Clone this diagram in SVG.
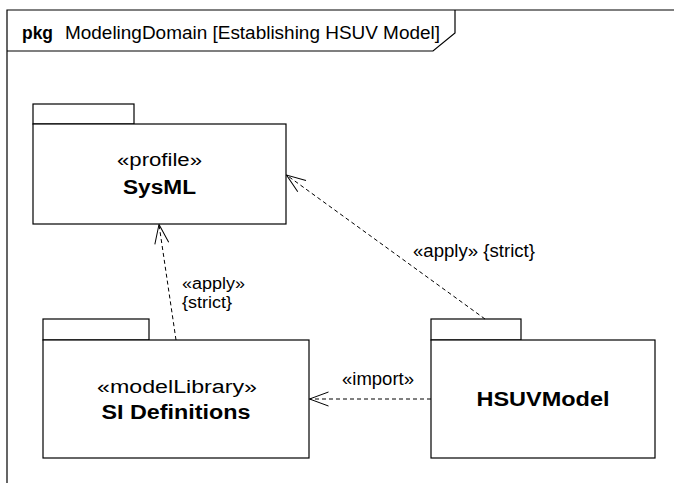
<svg xmlns="http://www.w3.org/2000/svg" width="674" height="483" viewBox="0 0 674 483">
<style>
text{font-family:"Liberation Sans",Arial,sans-serif;fill:#000}
.b{font-weight:bold}
.pk{fill:#fff;stroke:#000;stroke-width:1.2}
.dep{fill:none;stroke:#000;stroke-width:1;stroke-dasharray:4 3;marker-end:url(#open)}
.frame{fill:none;stroke:#000;stroke-width:1.2}
</style>
<defs>
<marker id="open" markerUnits="userSpaceOnUse" viewBox="-21 -8 22 16" markerWidth="22" markerHeight="16" refX="0" refY="0" orient="auto">
<path d="M-19,-7 L0,0 L-19,7" fill="none" stroke="#000" stroke-width="1"/>
</marker>
</defs>
<rect width="674" height="483" fill="#fff"/>
<g id="frame">
<path class="frame" d="M7,490 V10 H680"/>
<path class="frame" d="M7,51 H433 L455,33 V10"/>
<text x="22" y="39" font-size="17.5" class="b" textLength="31" lengthAdjust="spacingAndGlyphs">pkg</text>
<text x="65" y="39" font-size="17.5" textLength="375" lengthAdjust="spacingAndGlyphs">ModelingDomain [Establishing HSUV Model]</text>
</g>
<g id="SysML">
<rect class="pk" x="33" y="104" width="101" height="20"/>
<rect class="pk" x="33" y="124" width="253" height="100"/>
<text x="159.5" y="166" font-size="18" text-anchor="middle" textLength="85" lengthAdjust="spacingAndGlyphs">«profile»</text>
<text x="159.5" y="194" font-size="20" class="b" text-anchor="middle" textLength="73" lengthAdjust="spacingAndGlyphs">SysML</text>
</g>
<g id="SIDefinitions">
<rect class="pk" x="43" y="319" width="106" height="21"/>
<rect class="pk" x="43" y="340" width="266" height="118"/>
<text x="177" y="393" font-size="18" text-anchor="middle" textLength="160" lengthAdjust="spacingAndGlyphs">«modelLibrary»</text>
<text x="176" y="419" font-size="20" class="b" text-anchor="middle" textLength="149" lengthAdjust="spacingAndGlyphs">SI Definitions</text>
</g>
<g id="HSUVModel">
<rect class="pk" x="431" y="319" width="90" height="21"/>
<rect class="pk" x="431" y="340" width="224" height="118"/>
<text x="543" y="406" font-size="20" class="b" text-anchor="middle" textLength="133" lengthAdjust="spacingAndGlyphs">HSUVModel</text>
</g>
<g id="connectors">
<line class="dep" x1="176" y1="340" x2="159" y2="224.5"/>
<line class="dep" x1="485" y1="319" x2="286.5" y2="175"/>
<line class="dep" x1="431" y1="399" x2="309.5" y2="399"/>
<text x="182" y="289" font-size="16" textLength="63" lengthAdjust="spacingAndGlyphs">«apply»</text>
<text x="182" y="308" font-size="16" textLength="50" lengthAdjust="spacingAndGlyphs">{strict}</text>
<text x="413" y="257" font-size="17.5" textLength="122" lengthAdjust="spacingAndGlyphs">«apply» {strict}</text>
<text x="342" y="385" font-size="17.5" textLength="72" lengthAdjust="spacingAndGlyphs">«import»</text>
</g>
</svg>
